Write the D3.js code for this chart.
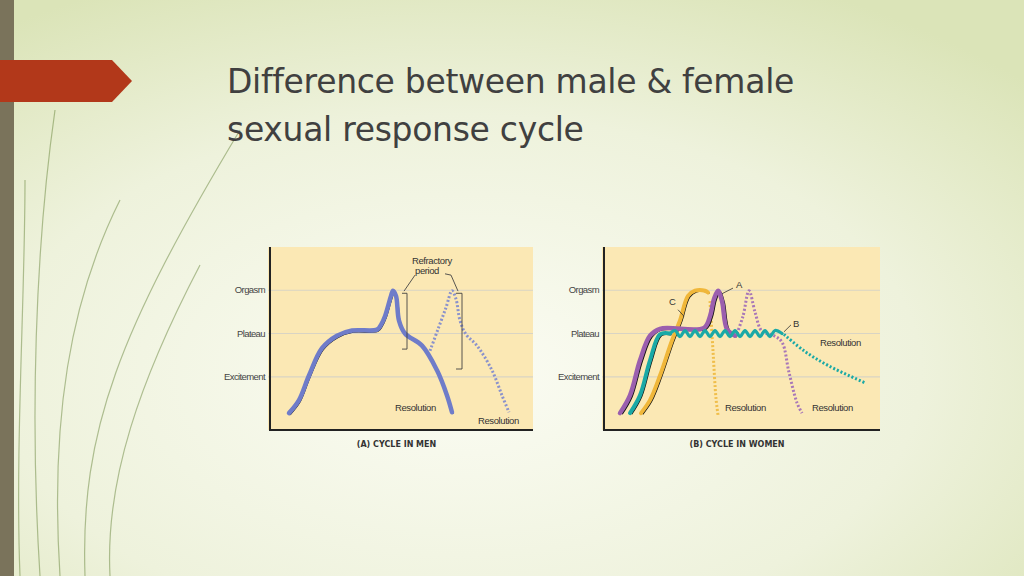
<!DOCTYPE html>
<html><head><meta charset="utf-8">
<script src="https://cdn.jsdelivr.net/npm/d3@7"></script>
<style>body{margin:0;overflow:hidden}</style>
</head><body><svg id="c" width="1024" height="576"></svg>
<script>
// levels on the y axis
var levels = ['Excitement', 'Plateau', 'Orgasm'];
// men, x in panel units, y in level units
var menCurve = [[19,0.16],[29,0.46],[39,1.03],[52,1.66],[67,1.95],[82,2.07],[107,2.09],[111,2.2],[115,2.4],[121,2.87],[123,2.99],[126,2.87],[129,2.3],[135,2.0],[152,1.72],[167,1.15],[177,0.57],[182,0.18]];
var menSecond = [[160,1.6],[168,2.1],[176,2.6],[182,2.99],[186,2.8],[190,2.3],[196,1.98],[207,1.72],[222,1.15],[232,0.57],[239,0.18]];
// women
var womenA = [[16,0.16],[26,0.57],[36,1.38],[46,1.95],[56,2.11],[100,2.13],[106,2.4],[110,2.8],[114,2.99],[118,2.75],[123,2.1],[131,1.95]];
var womenAsecond = [[133,2.0],[139,2.4],[145,2.99],[151,2.5],[158,2.05],[170,1.95],[178,1.8],[185,1.1],[193,0.4],[198,0.16]];
var womenB = [[26,0.16],[36,0.57],[46,1.38],[56,1.98],[66,2.0]];
var womenBwave = [[66,2.0],[71,2.07],[76,1.93],[81,2.07],[86,1.93],[91,2.07],[96,1.93],[101,2.07],[106,1.93],[111,2.07],[116,1.93],[121,2.07],[126,1.93],[131,2.07],[136,1.93],[141,2.07],[146,1.93],[151,2.07],[156,1.93],[161,2.07],[166,1.93],[171,2.07],[178,2.0]];
var womenBres = [[180,1.98],[200,1.6],[225,1.25],[262,0.85]];
var womenC = [[37,0.16],[46,0.46],[56,1.03],[68,1.84],[76,2.3],[84,2.87],[91,2.99],[101,2.99],[104,2.95]];
var womenCres = [[106,2.75],[109,1.6],[112,0.5],[114,0.12]];
var menRes = [['Resolution',125,0.2],['Resolution',208,-0.1]];
var womenRes = [['Resolution',121,0.2],['Resolution',208,0.2],['Resolution',216,1.72]];

var svg = d3.select('#c');
var defs = svg.append('defs');
var g1 = defs.append('radialGradient').attr('id','bg').attr('cx','45%').attr('cy','65%').attr('r','75%');
g1.append('stop').attr('offset','0%').attr('stop-color','#fbfcf3');
g1.append('stop').attr('offset','60%').attr('stop-color','#eef2dc');
g1.append('stop').attr('offset','100%').attr('stop-color','#dbe4b8');
svg.append('rect').attr('width',1024).attr('height',576).attr('fill','url(#bg)');

// left decoration
svg.append('rect').attr('x',0).attr('y',0).attr('width',14).attr('height',576).attr('fill','#7a735b');
var deco = [
  'M40,576 C30,420 35,250 55,110', 'M60,576 C50,420 70,300 120,200',
  'M85,576 C80,430 120,330 240,130', 'M20,576 C15,450 25,300 25,180',
  'M110,576 C105,480 140,380 200,265'];
svg.selectAll('path.deco').data(deco).enter().append('path')
  .attr('d', function(d){ return d; }).attr('fill','none')
  .attr('stroke','#5c7a2c').attr('stroke-opacity',0.45).attr('stroke-width',1.2);
svg.append('path').attr('d','M0,60 L112,60 L132,81 L112,102 L0,102 Z').attr('fill','#b2381a');

svg.append('text').attr('x',227).attr('y',93).attr('font-family','DejaVu Sans, sans-serif')
  .attr('font-size',33).attr('fill','#404040').attr('letter-spacing',-0.3).text('Difference between male & female');
svg.append('text').attr('x',227).attr('y',141).attr('font-family','DejaVu Sans, sans-serif')
  .attr('font-size',33).attr('fill','#404040').attr('letter-spacing',-0.3).text('sexual response cycle');

var y = d3.scaleLinear().domain([-0.23, 4]).range([430, 247]);

function panel(left, width, caption) {
  var x = d3.scaleLinear().domain([0, width]).range([left, left + width]);
  var g = svg.append('g');
  g.append('rect').attr('x', left - 2).attr('y', 247).attr('width', width + 2).attr('height', 183).attr('fill', '#fbe8b4');
  levels.forEach(function(l, i) {
    g.append('line').attr('x1', left - 2).attr('x2', left + width).attr('y1', y(i + 1)).attr('y2', y(i + 1))
      .attr('stroke', '#d9d4c4').attr('stroke-width', 1.2);
    g.append('text').attr('x', left - 5).attr('y', y(i + 1) + 3).attr('text-anchor', 'end')
      .attr('font-family', 'Liberation Sans, sans-serif').attr('font-size', 9.5).attr('fill', '#444')
      .attr('letter-spacing', -0.6).text(l);
  });
  g.append('path').attr('d', 'M' + (left) + ',247 L' + left + ',430 L' + (left + width) + ',430')
    .attr('fill', 'none').attr('stroke', '#222').attr('stroke-width', 2);
  g.append('text').attr('x', left + width / 2 - 5).attr('y', 447).attr('text-anchor', 'middle')
    .attr('font-family', 'DejaVu Sans, sans-serif').attr('font-weight', 'bold').attr('font-size', 8)
    .attr('fill', '#333').text(caption);
  return x;
}

var line = d3.line().curve(d3.curveCatmullRom.alpha(0.5));
function draw(x, data, color, w, dash, shadow) {
  var p = line(data.map(function(d){ return [x(d[0]), y(d[1])]; }));
  if (shadow) svg.append('path').attr('d', p).attr('fill','none').attr('stroke','#111').attr('stroke-width',1.8)
    .attr('transform','translate(' + shadow + ',1)');
  var path = svg.append('path').attr('d', p).attr('fill','none').attr('stroke',color)
    .attr('stroke-width',w).attr('stroke-linecap', dash ? 'butt' : 'round');
  if (dash) path.attr('stroke-dasharray', dash);
}
function label(x, d, anchor) {
  svg.append('text').attr('x', x(d[1])).attr('y', y(d[2])).attr('text-anchor', anchor || 'start')
    .attr('font-family','Liberation Sans, sans-serif').attr('font-size',9.5).attr('fill','#333')
    .attr('letter-spacing', -0.4).text(d[0]);
}

// men
var xm = panel(270, 263, '(A) CYCLE IN MEN');
draw(xm, menSecond, '#8a92cc', 3, '2,2');
svg.append('path').attr('d', line(menCurve.map(function(d){ return [xm(d[0]) + 1, y(d[1]) + 1.5]; })))
  .attr('fill','none').attr('stroke','#111').attr('stroke-width',1.6);
svg.append('path').attr('d', line(menCurve.map(function(d){ return [xm(d[0]), y(d[1])]; })))
  .attr('fill','none').attr('stroke','#6f7cc9').attr('stroke-width',4.5).attr('stroke-linecap','round');
menRes.forEach(function(d){ label(xm, d); });
// refractory brackets
var br = svg.append('g').attr('fill','none').attr('stroke','#444').attr('stroke-width',0.9);
br.append('path').attr('d','M' + (xm(132)) + ',' + y(2.93) + ' h5 V' + y(1.64) + ' h-5');
br.append('path').attr('d','M' + (xm(186)) + ',' + y(2.93) + ' h6 V' + y(1.18) + ' h-6');
br.append('path').attr('d','M' + xm(134) + ',' + y(2.98) + ' L' + xm(145) + ',' + y(3.35));
br.append('path').attr('d','M' + xm(188) + ',' + y(2.98) + ' L' + xm(181) + ',' + y(3.35) + ' L' + xm(175) + ',' + y(3.38));
svg.append('text').attr('x', xm(142)).attr('y', y(3.6)).attr('font-family','Liberation Sans, sans-serif')
  .attr('font-size',9.5).attr('letter-spacing',-0.4).attr('fill','#333').text('Refractory');
svg.append('text').attr('x', xm(145)).attr('y', y(3.38)).attr('font-family','Liberation Sans, sans-serif')
  .attr('font-size',9.5).attr('letter-spacing',-0.4).attr('fill','#333').text('period');

// women
var xw = panel(604, 276, '(B) CYCLE IN WOMEN');
draw(xw, womenCres, '#f0be4a', 3, '2,2');
draw(xw, womenAsecond, '#a877b8', 3, '2,2');
draw(xw, womenBres, '#1aa9a6', 3, '2,2');
draw(xw, womenC, '#f0b73a', 4, null, 1.5);
draw(xw, womenA, '#9b5fae', 4.5, null, 2);
draw(xw, womenB, '#1aa9a6', 4, null, 1.5);
draw(xw, womenBwave, '#1aa9a6', 3.2, null, 0);
womenRes.forEach(function(d){ label(xw, d); });
var lead = svg.append('g').attr('fill','none').attr('stroke','#333').attr('stroke-width',0.8);
lead.append('path').attr('d','M' + xw(118) + ',' + y(2.92) + ' L' + xw(129) + ',' + y(3.05));
lead.append('path').attr('d','M' + xw(74) + ',' + y(2.55) + ' L' + xw(80) + ',' + y(2.4));
lead.append('path').attr('d','M' + xw(180) + ',' + y(2.04) + ' L' + xw(187) + ',' + y(2.2));
[['A',132,3.05],['C',65,2.65],['B',189,2.15]].forEach(function(d){ label(xw, d); });
</script></body></html>
